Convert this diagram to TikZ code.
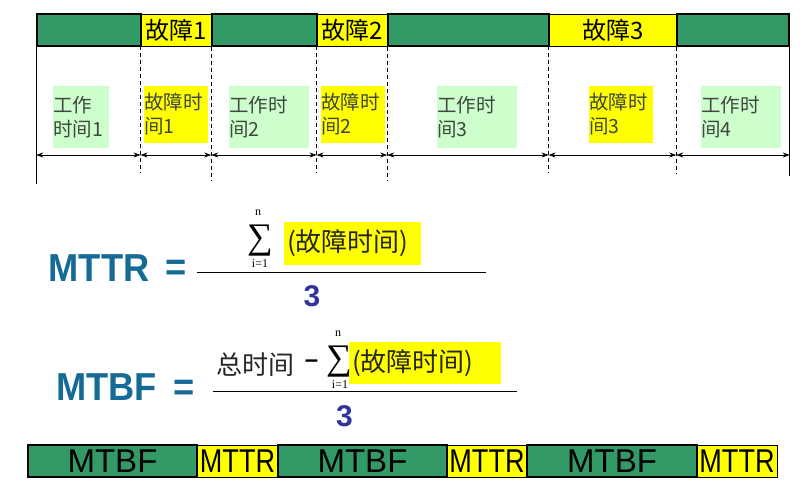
\documentclass[tikz,border=0pt]{standalone}
\usepackage{fontspec}
\setmainfont{Liberation Serif}
\newfontfamily\cjk{Noto Sans CJK SC}
\newfontfamily\headfont{Liberation Sans}[FakeStretch=0.93]
\newfontfamily\barfont{Liberation Sans}
\newfontfamily\narrowfont{Liberation Sans}[FakeStretch=0.82]
\definecolor{bargreen}{RGB}{51,153,102}
\definecolor{palegreen}{RGB}{204,255,204}
\definecolor{faultyellow}{RGB}{255,255,0}
\definecolor{headblue}{RGB}{22,106,150}
\definecolor{numblue}{RGB}{51,51,153}
\definecolor{labelgray}{RGB}{64,70,64}
\usetikzlibrary{arrows.meta}

\begin{document}
\begin{tikzpicture}[x=1pt, y=-1pt,
  upseg/.style={draw=black, fill=bargreen, line width=1.6pt, minimum height=32pt, inner sep=0pt},
  downseg/.style={draw=black, fill=faultyellow, line width=0.8pt, minimum height=32pt, inner sep=0pt,
    font=\cjk\fontsize{24}{24}\selectfont},
  mtbfseg/.style={upseg, font=\barfont\fontsize{33}{33}\selectfont},
  mttrseg/.style={downseg, font=\narrowfont\fontsize{33}{33}\selectfont},
  worklbl/.style={fill=palegreen, text=labelgray, minimum height=62pt, inner sep=0pt, align=left,
    font=\cjk\fontsize{19.5}{24}\selectfont},
  faultlbl/.style={worklbl, fill=faultyellow, minimum height=57pt},
  dim/.style={{Stealth[length=7pt,width=5pt]}-{Stealth[length=7pt,width=5pt]}, line width=0.7pt},
  guide/.style={dash pattern=on 4pt off 3pt, line width=0.7pt},
  head/.style={text=headblue, font=\headfont\bfseries\fontsize{39}{39}\selectfont, inner sep=0pt},
  num/.style={text=numblue, font=\barfont\bfseries\fontsize{30}{30}\selectfont, inner sep=0pt},
  sumsign/.style={font=\fontsize{36}{36}\selectfont, inner sep=0pt},
  limit/.style={font=\fontsize{12}{12}\selectfont, inner sep=0pt},
  sumbox/.style={fill=faultyellow, text=black!85, inner xsep=3pt, inner ysep=0pt, align=left,
    font=\cjk\fontsize{26}{26}\selectfont},
]
  \useasboundingbox (0,0) rectangle (811,500);

  % time line
  \node[downseg, minimum width=71pt] (f1) at (176.5,30) {故障1};
  \node[downseg, minimum width=71pt] (f2) at (352.5,30) {故障2};
  \node[downseg, minimum width=128pt] (f3) at (613,30) {故障3};
  \node[upseg, minimum width=104pt] (w1) at (89,30) {};
  \node[upseg, minimum width=105pt] (w2) at (264.5,30) {};
  \node[upseg, minimum width=161pt] (w3) at (468.5,30) {};
  \node[upseg, minimum width=112pt] (w4) at (733,30) {};

  \draw[line width=0.7pt] (w1.south west) -- ++(0,137);
  \draw[line width=0.7pt] (w4.south east) -- ++(0,129);
  \draw[guide] (f1.south west) -- ++(0,127);
  \draw[guide] (w2.south west) -- ++(0,134);
  \draw[guide] (f2.south west) -- ++(0,127);
  \draw[guide] (w3.south west) -- ++(0,134);
  \draw[guide] (f3.south west) -- ++(0,127);
  \draw[guide] (w4.south west) -- ++(0,127);

  \coordinate (t0) at (w1.south west |- 0,155);
  \coordinate (t1) at (f1.south west |- 0,155);
  \coordinate (t2) at (w2.south west |- 0,155);
  \coordinate (t3) at (f2.south west |- 0,155);
  \coordinate (t4) at (w3.south west |- 0,155);
  \coordinate (t5) at (f3.south west |- 0,155);
  \coordinate (t6) at (w4.south west |- 0,155);
  \coordinate (t7) at (w4.south east |- 0,155);
  \draw[dim] (t0) -- (t1);
  \draw[dim] (t1) -- (t2);
  \draw[dim] (t2) -- (t3);
  \draw[dim] (t3) -- (t4);
  \draw[dim] (t4) -- (t5);
  \draw[dim] (t5) -- (t6);
  \draw[dim] (t6) -- (t7);

  \node[worklbl, text width=56pt] (l1) at (81,117) {工作\\时间1};
  \node[faultlbl, text width=64pt] (l2) at (176,114.5) {故障时\\间1};
  \node[worklbl, text width=80pt] (l3) at (269,117) {工作时\\间2};
  \node[faultlbl, text width=64pt] (l4) at (353,114.5) {故障时\\间2};
  \node[worklbl, text width=80pt] (l5) at (477,117) {工作时\\间3};
  \node[faultlbl, text width=64pt] (l6) at (621,114.5) {故障时\\间3};
  \node[worklbl, text width=80pt] (l7) at (741,117) {工作时\\间4};

  % MTTR
  \node[head] (mttr) at (99,268.5) {MTTR};
  \node[head] (eq1) at (176,270.5) {=};
  \draw[line width=0.8pt] (197,272) -- (486,272);
  \node[sumbox, text width=131pt, minimum height=43pt] (g1) at (352.5,243.5) {(故障时间)};
  \node[sumsign] (s1) at (260,241) {∑};
  \node[limit] (n1) at (258,213) {n};
  \node[limit] (i1) at (260,264) {i=1};
  \node[num] (d1) at (312,296) {3};

  % MTBF
  \node[head] (mtbf) at (106.5,387) {MTBF};
  \node[head] (eq2) at (184.5,390) {=};
  \draw[line width=0.8pt] (213,391) -- (517,391);
  \node[text=black!85, font=\cjk\fontsize{26}{26}\selectfont, inner sep=0pt] (tot) at (255.5,365) {总时间};
  \node[font=\barfont\bfseries\fontsize{24}{24}\selectfont, inner sep=0pt] (minus) at (311.5,364) {\textendash};
  \node[sumbox, text width=146pt, minimum height=42pt] (g2) at (425,363) {(故障时间)};
  \node[sumsign] (s2) at (339,362) {∑};
  \node[limit] (n2) at (338,334) {n};
  \node[limit] (i2) at (340,385) {i=1};
  \node[num] (d2) at (344.5,416) {3};

  % MTBF / MTTR bar
  \node[mttrseg, minimum width=81pt] (b2) at (237.5,461) {MTTR};
  \node[mttrseg, minimum width=80pt] (b4) at (487,461) {MTTR};
  \node[mttrseg, minimum width=80pt] (b6) at (737,461) {MTTR};
  \node[mtbfseg, minimum width=169pt] (b1) at (112.5,461) {MTBF};
  \node[mtbfseg, minimum width=169pt] (b3) at (362.5,461) {MTBF};
  \node[mtbfseg, minimum width=170pt] (b5) at (612,461) {MTBF};
\end{tikzpicture}
\end{document}
